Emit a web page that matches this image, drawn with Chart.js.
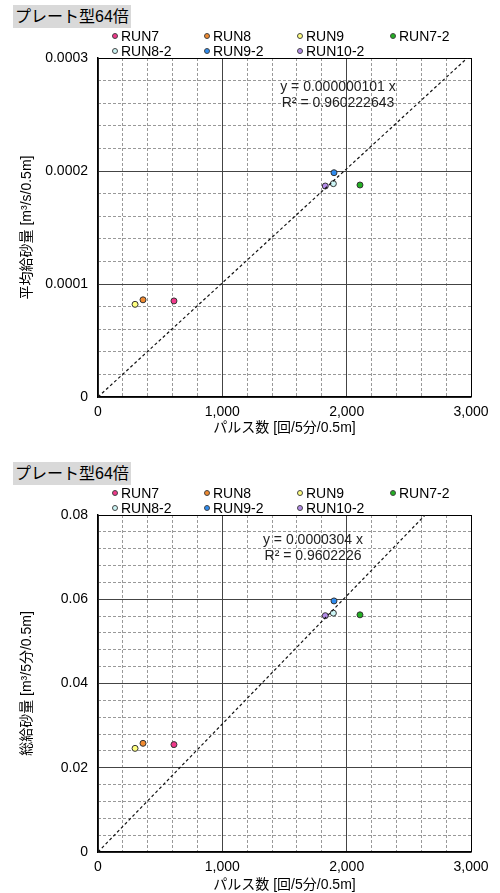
<!DOCTYPE html>
<html>
<head>
<meta charset="utf-8">
<script src="https://cdn.jsdelivr.net/npm/chart.js@4/dist/chart.umd.min.js"></script>
<style>
body { margin: 0; background: #fff; font-family: 'Liberation Sans', 'Noto Sans CJK JP', sans-serif; }
.panel { position: absolute; left: 0; width: 500px; height: 440px; }
.ttl { position: absolute; left: 13px; top: 5px; height: 23px; line-height: 23px; padding: 0 2px; background: #d9d9d9; font-size: 16px; color: #000; }
.lg { position: absolute; font-size: 14px; line-height: 15px; color: #000; white-space: nowrap; }
.lg i { display: inline-block; width: 4px; height: 4px; border-radius: 50%; border: 1px solid #444; margin-right: 3px; vertical-align: 2px; }
.eq { position: absolute; font-size: 14px; line-height: 16px; text-align: center; color: #222; transform: translateX(-50%); white-space: nowrap; }
canvas { position: absolute; left: 0; top: 0; }
</style>
</head>
<body>
<div class="panel" id="p1" style="top:0">
  <div class="ttl">プレート型64倍</div>
  <canvas id="c1" width="500" height="440"></canvas>
  <div class="eq" style="left:338px;top:78px">y = 0.000000101 x<br>R² = 0.960222643</div>
</div>
<div class="panel" id="p2" style="top:457px">
  <div class="ttl">プレート型64倍</div>
  <canvas id="c2" width="500" height="440"></canvas>
  <div class="eq" style="left:313px;top:74px">y = 0.0000304 x<br>R² = 0.9602226</div>
</div>
<script>
// Runs and colours
const runNames = ['RUN7', 'RUN8', 'RUN9', 'RUN7-2', 'RUN8-2', 'RUN9-2', 'RUN10-2'];
const runColors = ['#f0388a', '#f08a30', '#ffff80', '#22b022', '#ccf5f5', '#2f8cf0', '#b48ce8'];

// Pulse count [回/5分/0.5m]
const pulses = [611, 362, 298, 2107, 1893, 1898, 1828];
// Average sand supply [m3/s/0.5m]
const avgSupply = [0.0000850, 0.0000860, 0.0000820, 0.0001876, 0.0001888, 0.0001985, 0.0001867];
// Total sand supply [m3/5min/0.5m]
const totalSupply = [0.0255, 0.0258, 0.0246, 0.0563, 0.0567, 0.0596, 0.0561];

// Trendline ends (y = a x through origin)
const trendX = [0, 3000];
const trendAvgY = [0, 0.000303];
const trendTotalY = [0, 0.0912];

const xTicks = [0, 1000, 2000, 3000];

const FONT = "'Liberation Sans', 'Noto Sans CJK JP', sans-serif";

// HTML legend, 4 columns x 2 rows
function buildLegend(panel) {
    const colX = [112, 204, 297, 390];
    const rowY = [29, 44];
    runNames.forEach((name, i) => {
        const el = document.createElement('div');
        el.className = 'lg';
        el.style.left = colX[i % 4] + 'px';
        el.style.top = rowY[Math.floor(i / 4)] + 'px';
        el.innerHTML = '<i style="background:' + runColors[i] + '"></i>' + name;
        panel.appendChild(el);
    });
}
buildLegend(document.getElementById('p1'));
buildLegend(document.getElementById('p2'));

function isMajor(v, step) {
    const r = v / step;
    return Math.abs(r - Math.round(r)) < 1e-6;
}

function makeChart(id, yValues, trendY, cfg) {
    const datasets = runNames.map((name, i) => ({
        label: name,
        data: [{ x: pulses[i], y: yValues[i] }],
        backgroundColor: runColors[i],
        borderColor: '#333',
        borderWidth: 1,
        pointRadius: 3,
        order: 2,
    }));
    datasets.push({
        label: 'trend',
        data: trendX.map((x, i) => ({ x: x, y: trendY[i] })),
        showLine: true,
        pointRadius: 0,
        borderColor: '#111',
        borderWidth: 1.2,
        borderDash: [3, 2.5],
        order: 1,
    });

    return new Chart(document.getElementById(id), {
        type: 'scatter',
        data: { datasets: datasets },
        options: {
            responsive: false,
            animation: false,
            layout: { padding: { top: 58, right: 29, left: 0, bottom: 0 } },
            plugins: { legend: { display: false }, tooltip: { enabled: false } },
            scales: {
                xMinor: {
                    type: 'linear', min: 0, max: 3000, position: 'bottom',
                    ticks: { display: false, stepSize: 200, maxTicksLimit: 100 },
                    grid: {
                        drawTicks: false, lineWidth: 1,
                        color: ctx => isMajor(ctx.tick.value, 1000) ? 'rgba(0,0,0,0)' : '#999',
                    },
                    border: { display: false, dash: [3, 2] },
                    afterFit: s => { s.height = 0; },
                },
                yMinor: {
                    type: 'linear', min: 0, max: cfg.yMax, position: 'left',
                    ticks: { display: false, stepSize: cfg.yMinorStep, maxTicksLimit: 100 },
                    grid: {
                        drawTicks: false, lineWidth: 1,
                        color: ctx => isMajor(ctx.tick.value, cfg.yStep) ? 'rgba(0,0,0,0)' : '#999',
                    },
                    border: { display: false, dash: [3, 2] },
                    afterFit: s => { s.width = 0; },
                },
                x: {
                    type: 'linear', min: 0, max: 3000, position: 'bottom',
                    afterBuildTicks: s => { s.ticks = xTicks.map(v => ({ value: v })); },
                    ticks: {
                        callback: v => v.toLocaleString('en-US'),
                        font: { family: FONT, size: 14 }, color: '#000', padding: 7, maxRotation: 0,
                    },
                    grid: { drawTicks: false, lineWidth: 1, color: ctx => ctx.tick.value === 3000 ? '#000' : '#444' },
                    border: { color: '#000', width: 1.5 },
                    title: {
                        display: true, text: 'パルス数 [回/5分/0.5m]', color: '#000',
                        font: { family: FONT, size: 14 }, padding: { top: 0, bottom: 3 },
                    },
                    afterFit: s => { s.height = 440 - cfg.plotBottom; },
                },
                y: {
                    type: 'linear', min: 0, max: cfg.yMax, position: 'left',
                    ticks: {
                        stepSize: cfg.yStep,
                        callback: v => v === 0 ? '0' : v.toFixed(cfg.decimals),
                        font: { family: FONT, size: 14 }, color: '#000', padding: 10,
                    },
                    grid: { drawTicks: false, lineWidth: 1, color: ctx => isMajor(ctx.tick.value / cfg.yMax, 1) && ctx.tick.value > 0 ? '#000' : '#444' },
                    border: { color: '#000', width: 1.5 },
                    title: {
                        display: true, text: cfg.yTitle, color: '#000',
                        font: { family: FONT, size: 14 }, padding: { top: 19, bottom: 0 },
                    },
                    afterFit: s => { s.width = 98; },
                },
            },
        },
    });
}

makeChart('c1', avgSupply, trendAvgY, {
    yMax: 0.0003, yStep: 0.0001, yMinorStep: 0.00002, decimals: 4,
    yTitle: '平均給砂量 [m³/s/0.5m]', plotBottom: 397,
});
makeChart('c2', totalSupply, trendTotalY, {
    yMax: 0.08, yStep: 0.02, yMinorStep: 0.004, decimals: 2,
    yTitle: '総給砂量 [m³/5分/0.5m]', plotBottom: 395,
});
</script>
</body>
</html>
